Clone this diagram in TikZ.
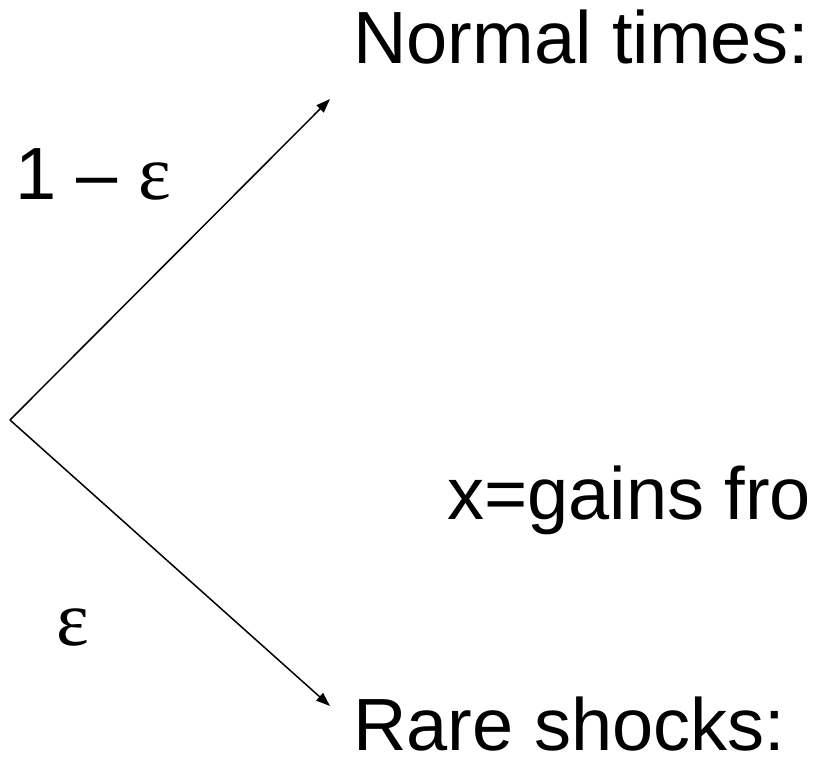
\documentclass[tikz,border=0pt]{standalone}
\usepackage{fontspec}
\setmainfont{Liberation Sans}
\newfontfamily\grk{Liberation Serif}
\usetikzlibrary{arrows.meta}
\tikzset{
  lbl/.style={anchor=base west, inner sep=0pt, font=\fontsize{74}{80}\selectfont},
  branch/.style={line width=1.5pt, -{Triangle[length=14pt,width=10pt]}}
}
\begin{document}
\begin{tikzpicture}[x=1pt,y=-1pt]
\useasboundingbox (0,0) rectangle (816,758);
\coordinate (apex) at (10,420);
\coordinate (up) at (330,99);
\coordinate (down) at (330,706);
\draw[branch] (apex) -- (up);
\draw[branch] (apex) -- (down);
\node[lbl] (normal) at (353,63) {Normal times:};
\node[lbl, text depth=0pt] (rare) at (353,750) {Rare shocks:};
\node[lbl] (gains) at (447,519) {x=gains fro};
\node[lbl] (p1) at (15,199) {1 – {\grk\fontsize{78}{80}\selectfont ε}};
\node[lbl] (p2) at (56,645) {\grk\fontsize{78}{80}\selectfont ε};
\end{tikzpicture}
\end{document}
